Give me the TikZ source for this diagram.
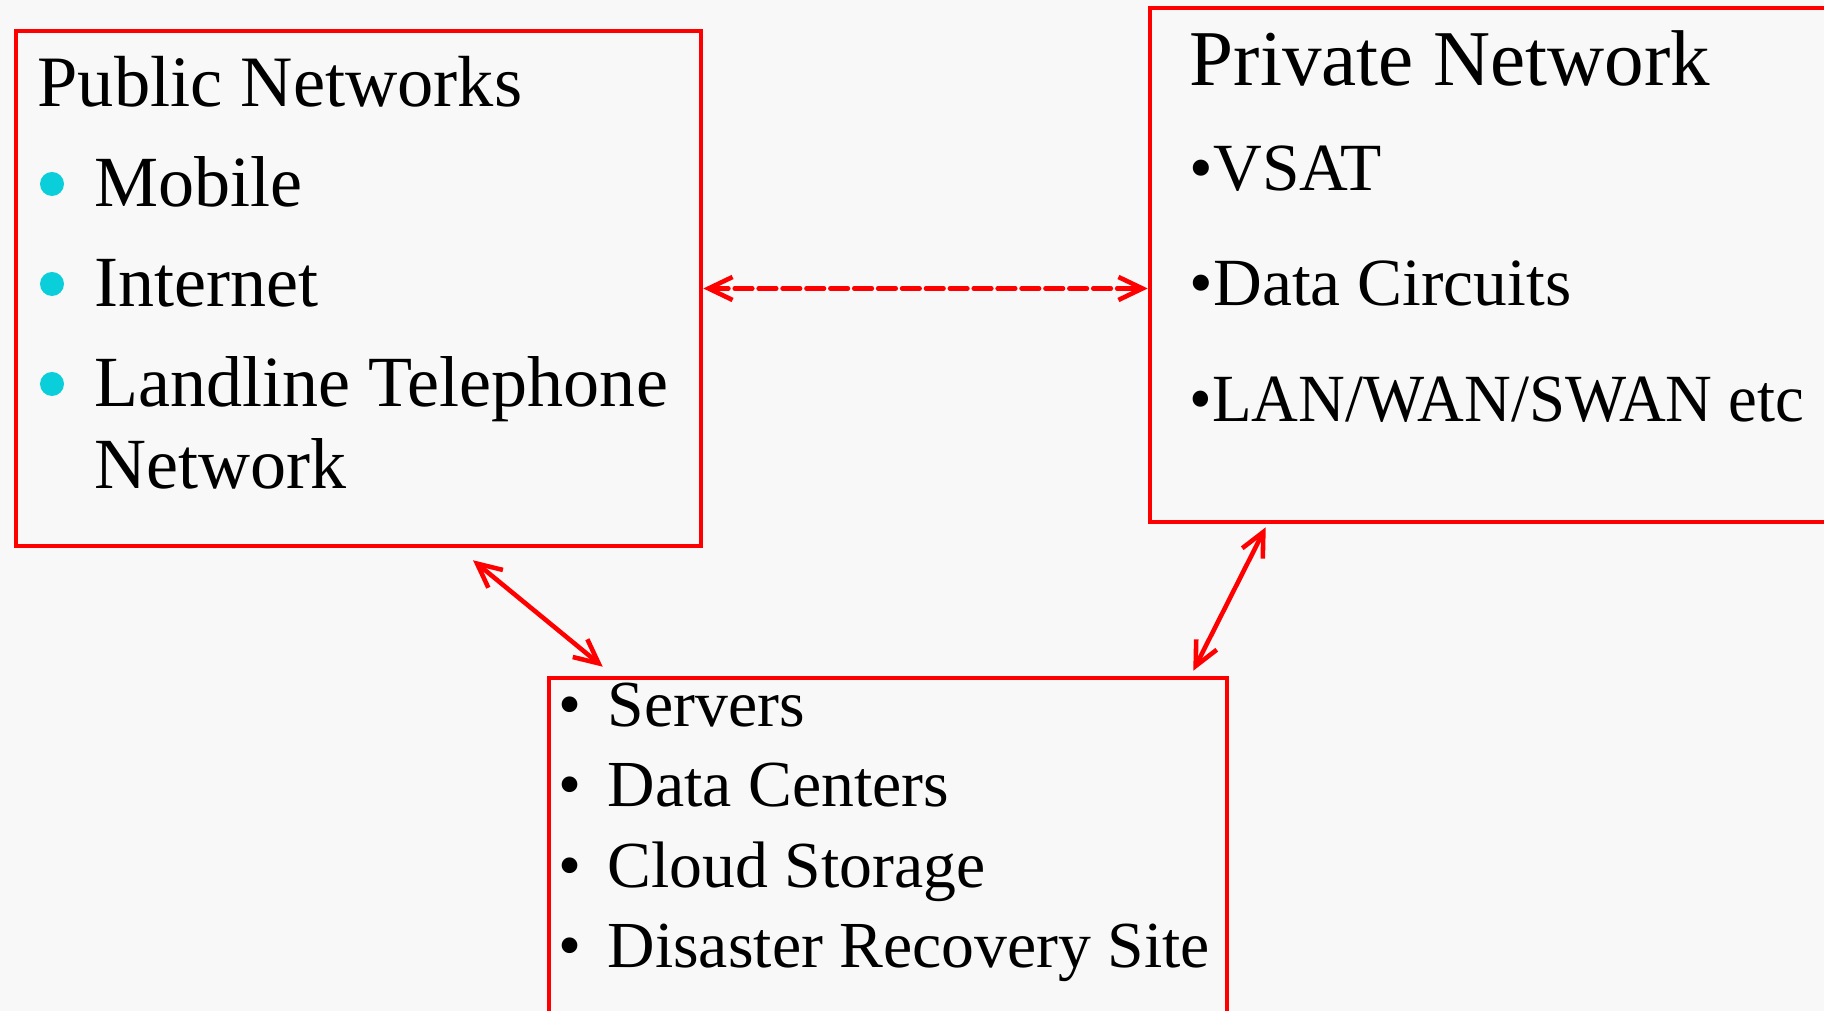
\documentclass[tikz,border=0pt]{standalone}
\usepackage{fontspec}
\setmainfont{Liberation Serif}
\usepackage{xcolor}
\definecolor{netred}{HTML}{FF0000}
\definecolor{dotcyan}{HTML}{0ACFDA}
\definecolor{slidegray}{HTML}{F8F8F8}
\usetikzlibrary{positioning, arrows.meta, calc}
\tikzset{
  >={Straight Barb[length=2.4mm, width=2.3mm]},
  netbox/.style={rectangle, draw=netred, line width=1.3pt, inner sep=0pt},
  headtext/.style={anchor=base west, inner sep=0pt,
    font=\fontsize{20.6}{24}\selectfont},
  itemtext/.style={anchor=base west, inner sep=0pt,
    font=\fontsize{20.5}{24}\selectfont},
  privtext/.style={anchor=base west, inner sep=0pt,
    font=\fontsize{19.2}{24}\selectfont},
  sitetext/.style={anchor=base west, inner sep=0pt,
    font=\fontsize{18.7}{22}\selectfont},
  cyandot/.style={circle, fill=dotcyan, inner sep=0pt, minimum size=0.24cm},
  netlink/.style={<->, netred, line width=1.3pt, line cap=round,
    dash pattern=on 5pt off 1.8pt},
  sitelink/.style={<->, netred, line width=1.3pt, line cap=round}
}
\newcommand{\siteitem}[1]{\makebox[0.495cm][l]{\textbullet}#1}

\begin{document}
\begin{tikzpicture}
\fill[slidegray] (0,0) rectangle (18.24,10.11);
\clip (0,0) rectangle (18.24,10.11);

% the three boxes
\node[netbox, minimum width=6.85cm, minimum height=5.15cm] (pub) at (3.585,7.225) {};
\node[netbox, minimum width=7.5cm, minimum height=5.14cm] (priv) at (15.25,7.46) {};
\node[netbox, minimum width=6.78cm, minimum height=4.23cm] (bot) at (8.88,1.215) {};

% public networks
\node[headtext] (pubtitle) at (0.37,9.04) {Public Networks};
\node[cyandot] (dotmobile) at (0.52,8.27) {};
\node[cyandot] (dotinternet) at (0.52,7.27) {};
\node[cyandot] (dotlandline) at (0.52,6.27) {};
\node[itemtext] (mobile) at (0.94,8.04) {Mobile};
\node[itemtext] (internet) at (0.94,7.04) {Internet};
\node[itemtext] (landline) at (0.94,6.04) {Landline Telephone};
\node[itemtext] (landline2) at (0.94,5.22) {Network};

% private network
\node[headtext, font=\fontsize{22.5}{26}\selectfont] (privtitle) at (11.89,9.25) {Private Network};
\node[privtext] (vsat) at (11.89,8.20) {\textbullet VSAT};
\node[privtext] (circuits) at (11.89,7.05) {\textbullet Data Circuits};
\node[privtext] (lanwan) at (11.89,5.89) {\scalebox{0.96}[1]{\textbullet LAN/WAN/SWAN etc}};

% servers and sites
\node[sitetext] (servers) at (5.575,2.84) {\siteitem{Servers}};
\node[sitetext] (centers) at (5.575,2.04) {\siteitem{Data Centers}};
\node[sitetext] (cloud) at (5.575,1.23) {\siteitem{Cloud Storage}};
\node[sitetext] (recovery) at (5.575,0.43) {\siteitem{Disaster Recovery Site}};

% links
\coordinate (pubfoot) at ([shift={(1.145,-0.12)}]pub.south);
\coordinate (botleft) at ([shift={(0.56,0.09)}]bot.north west);
\coordinate (privfoot) at ([shift={(1.18,-0.03)}]priv.south west);
\coordinate (botright) at ([shift={(-0.36,0.05)}]bot.north east);

\draw[netlink] (pub.east) -- (pub.east -| priv.west);
\draw[sitelink] (pubfoot) -- (botleft);
\draw[sitelink] (privfoot) -- (botright);
\end{tikzpicture}
\end{document}
